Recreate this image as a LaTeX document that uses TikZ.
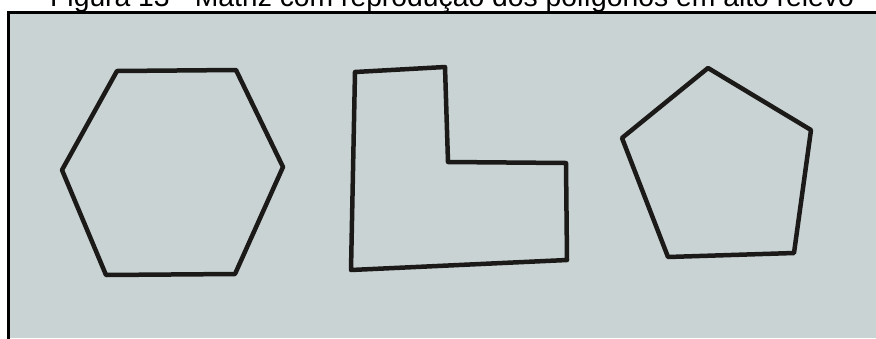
\documentclass[tikz,border=0pt]{standalone}
\usepackage{fontspec}
\setmainfont{Liberation Sans}
\definecolor{board}{RGB}{201,211,212}
\definecolor{ink}{RGB}{28,26,24}
\begin{document}
\begin{tikzpicture}[x=1pt,y=-1pt,
  poly/.style={line width=4.5pt, line join=round, draw=ink},
  frame/.style={line width=3pt, draw=black}]
\useasboundingbox (0,0) rectangle (876,338);
\clip (0,0) rectangle (876,338);
\fill[white] (0,0) rectangle (876,338);
\fill[board] (8,12) rectangle (876,338);
\draw[frame] (8.5,340) -- (8.5,12.5) -- (878,12.5);
\node[anchor=base west, inner sep=0pt] (cap) at (50,6)
  {\fontsize{28.3}{30}\selectfont Figura 13 - Matriz com reprodução dos polígonos em alto relevo};
% hexagon
\coordinate (h1) at (117,71);
\coordinate (h2) at (236,70);
\coordinate (h3) at (283,167);
\coordinate (h4) at (235,274);
\coordinate (h5) at (106,275);
\coordinate (h6) at (62,170);
\draw[poly] (h1) -- (h2) -- (h3) -- (h4) -- (h5) -- (h6) -- cycle;
% L shape
\coordinate (l1) at (355,72);
\coordinate (l2) at (445,67);
\coordinate (l3) at (448,162);
\coordinate (l4) at (566,163);
\coordinate (l5) at (567,260);
\coordinate (l6) at (351,270);
\draw[poly] (l1) -- (l2) -- (l3) -- (l4) -- (l5) -- (l6) -- cycle;
% pentagon
\coordinate (p1) at (708,68);
\coordinate (p2) at (811,130);
\coordinate (p3) at (794,253);
\coordinate (p4) at (668,257);
\coordinate (p5) at (622,138);
\draw[poly] (p1) -- (p2) -- (p3) -- (p4) -- (p5) -- cycle;
\end{tikzpicture}
\end{document}
